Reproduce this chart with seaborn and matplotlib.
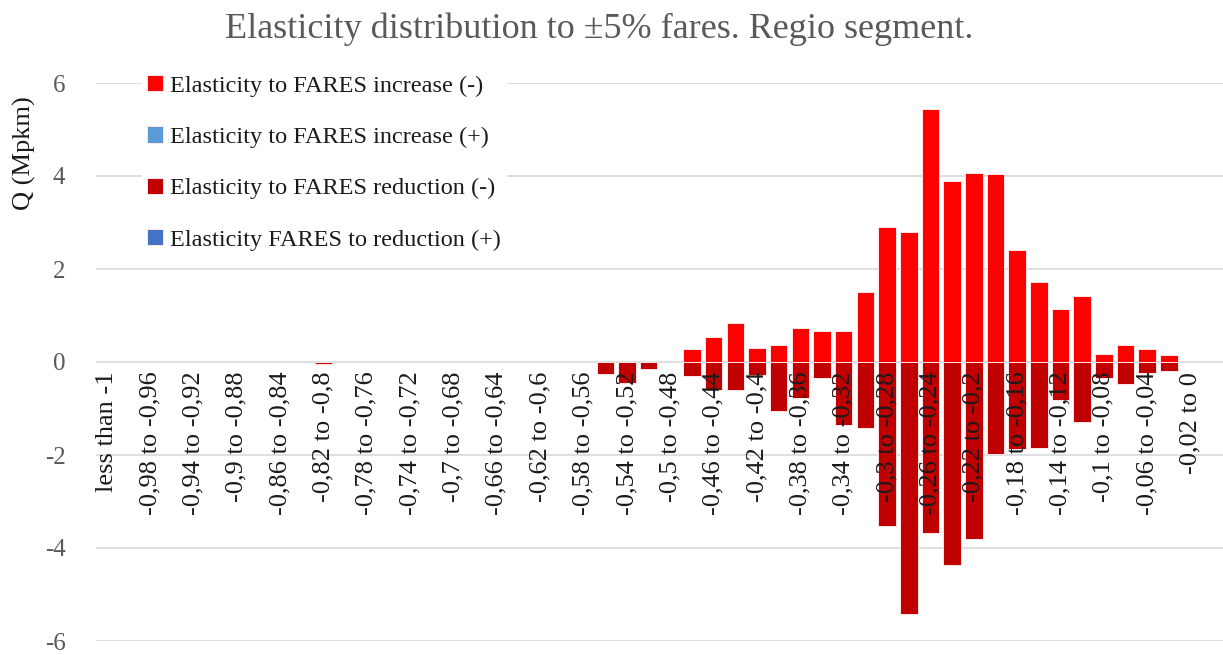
import numpy as np
import pandas as pd
import matplotlib
matplotlib.use("Agg")
import matplotlib.pyplot as plt
import seaborn as sns

# ---------------- data ----------------
categories = ["less than -1"]
for k in range(50):
    lo = -(1 - 0.02 * k)
    hi = lo + 0.02
    def fmt(v):
        s = f"{v:.2f}".rstrip("0").rstrip(".")
        if s in ("-0", "0"):
            s = "0"
        return s.replace(".", ",")
    categories.append(f"{fmt(lo)} to {fmt(hi)}")
categories.append("more than 0")

series_names = [
    "Elasticity to FARES increase (-)",
    "Elasticity to FARES increase (+)",
    "Elasticity to FARES reduction (-)",
    "Elasticity FARES to reduction (+)",
]
series_colors = ["#FF0000", "#5B9BD5", "#C00000", "#4472C4"]

nan = np.nan
# values in Mpkm, one per category (52)
increase_neg = [nan] * 27 + [0.285, 0.53, 0.84, 0.31, 0.375, 0.73, 0.67, 0.67, 1.50,
                             2.91, 2.80, 5.45, 3.90, 4.07, 4.04, 2.41, 1.72, 1.14,
                             1.42, 0.18, 0.375, 0.285, 0.155, nan, nan]
increase_pos = [nan] * 52
reduction_neg = ([nan] * 10 + [-0.04] + [nan] * 12 + [-0.26, -0.45, -0.15, nan,
                 -0.31, -0.61, -0.61, -0.285, -1.06, -0.77, -0.34, -1.36, -1.41,
                 -3.53, -5.43, -3.67, -4.36, -3.81, -1.97, -1.88, -1.85, -0.81,
                 -1.30, -0.34, -0.48, -0.23, -0.20, nan, nan])
reduction_pos = [nan] * 52

y_ticks = [-6, -4, -2, 0, 2, 4, 6]

values = [increase_neg, increase_pos, reduction_neg, reduction_pos]

rows = []
for name, vals in zip(series_names, values):
    for c, v in zip(categories, vals):
        rows.append({"cat": c, "series": name, "Q": v})
df = pd.DataFrame(rows).dropna()

# ---------------- plot ----------------
sns.set_theme(style="white")
plt.rcParams["font.family"] = ["Liberation Serif", "DejaVu Serif"]
plt.rcParams["axes.unicode_minus"] = False

fig = plt.figure(figsize=(12.23, 6.55), dpi=100)
ax = fig.add_axes([96 / 1223, 1 - 641 / 655, 1127 / 1223, 558 / 655])

sns.barplot(data=df, x="cat", y="Q", hue="series", order=categories,
            hue_order=series_names, palette=series_colors, dodge=False,
            saturation=1, width=0.81, errorbar=None, edgecolor="#FFE8E8",
            linewidth=0.7, ax=ax, zorder=2)

ax.set_xlim(-0.5, len(categories) - 0.5)
ax.set_ylim(-6, 6)
ax.set_yticks(y_ticks)
ax.grid(False)
for yv in y_ticks:
    ax.axhline(yv, color="#D9D9D9", linewidth=1.2, zorder=0)
ax.set_axisbelow(False)
for s in ax.spines.values():
    s.set_visible(False)
ax.spines["bottom"].set_position(("data", 0))

ticks = list(range(0, len(categories), 2))
ax.set_xticks(ticks)
ax.set_xticklabels([categories[i] for i in ticks], rotation=90,
                   fontsize=19, color="#1a1a1a", va="top", ha="center")
ax.tick_params(axis="x", length=0, pad=7)
ax.tick_params(axis="y", length=0, pad=22, labelsize=18, labelcolor="#595959")
ax.set_xlabel("")
ax.set_ylabel("Q (Mpkm)", fontsize=19, color="#1a1a1a")
ax.yaxis.set_label_coords(-0.053, 0.8746)

fig.text(0.49, 1 - 38 / 655, "Elasticity distribution to \u00b15% fares. Regio segment.",
         ha="center", va="baseline", fontsize=26, color="#595959")

handles, labels = ax.get_legend_handles_labels()
leg = ax.legend(handles, labels, loc="upper left",
                bbox_to_anchor=(130 / 1223, 1 - 58 / 655),
                bbox_transform=fig.transFigure,
                fontsize=17.5, frameon=True, framealpha=1, edgecolor="white",
                facecolor="white", handlelength=0.65, handleheight=0.65,
                handletextpad=0.3, labelspacing=1.22, borderpad=0.2)
leg.set_zorder(5)
for t in leg.get_texts():
    t.set_color("#1a1a1a")

fig.savefig("out.png", dpi=100)
